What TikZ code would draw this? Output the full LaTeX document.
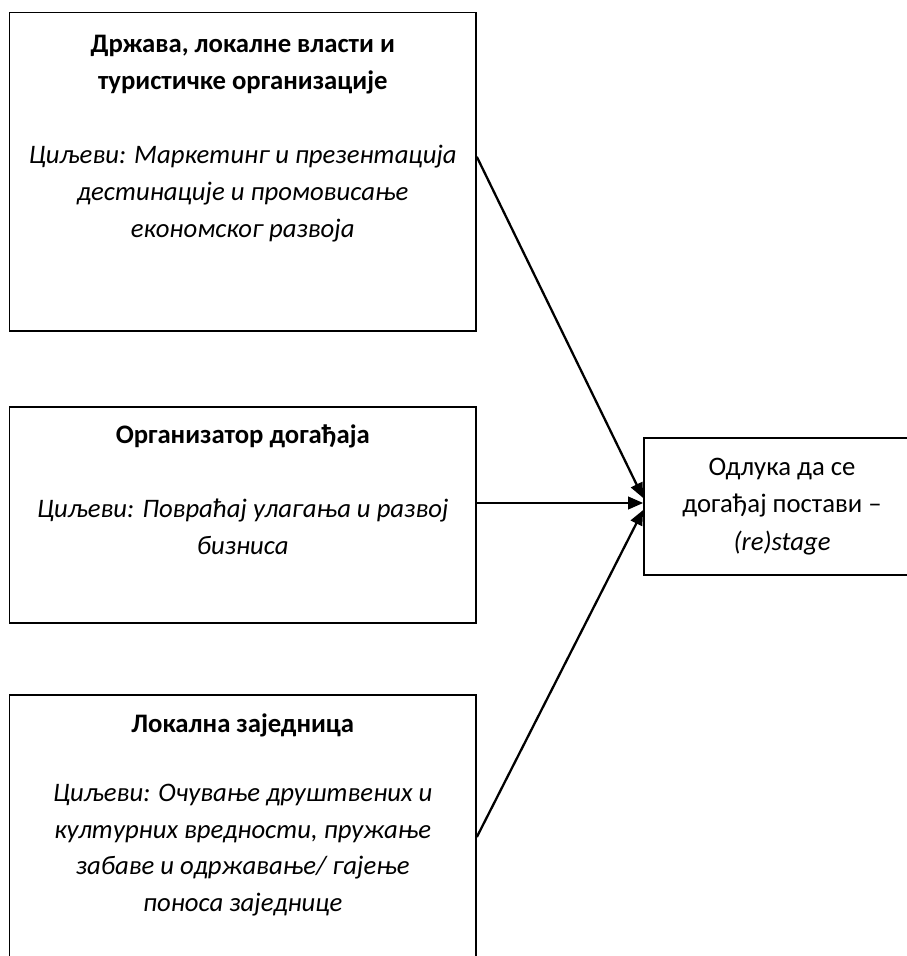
\documentclass[tikz,border=0pt]{standalone}
\usepackage{fontspec}
\setmainfont{Carlito}
\usepackage{tikz}
\usetikzlibrary{arrows.meta,positioning,calc}

\begin{document}
\begin{tikzpicture}[
  goalbox/.style={rectangle, draw=black, line width=0.95pt, minimum width=9.33cm, inner sep=0pt},
  goaltext/.style={anchor=north, align=center, inner sep=0pt, font=\fontsize{15.2}{21}\selectfont},
  decisionbox/.style={rectangle, draw=black, line width=0.95pt, minimum width=5.52cm, minimum height=2.74cm, align=center, font=\fontsize{15.2}{21.5}\selectfont},
  flowarrow/.style={-{Triangle[length=3mm,width=2.5mm]}, line width=1.3pt, color=black}
]
\useasboundingbox (0,0) rectangle (18.14,-19.12);
\clip (0,0) rectangle (18.14,-19.12);

% Left column: stakeholder boxes
\node[goalbox, minimum height=6.37cm] (gov) at (4.855, -3.437) {};
\node[goaltext] (govtext) at (4.855, -0.70) {
\textbf{Држава, локалне власти и}\\
\textbf{туристичке организације}\\[21pt]
\textit{Циљеви: Маркетинг и презентација}\\
\textit{дестинације и промовисање}\\
\textit{економског развоја}
};

\node[goalbox, minimum height=4.32cm] (org) at (4.855, -10.30) {};
\node[goaltext] (orgtext) at (4.855, -8.49) {
\textbf{Организатор догађаја}\\[21pt]
\textit{Циљеви: Повраћај улагања и развој}\\
\textit{бизниса}
};

\node[goalbox, minimum height=6.1cm] (comm) at (4.855, -16.95) {};
\node[goaltext] (commtext) at (4.855, -14.27) {
\textbf{Локална заједница}\\[18pt]
\textit{Циљеви: Очување друштвених и}\\
\textit{културних вредности, пружање}\\
\textit{забаве и одржавање/ гајење}\\
\textit{поноса заједнице}
};

% Right: decision box
\node[decisionbox] (dec) at (15.64, -10.13) {
Одлука да се\\
догађај постави –\\
\textit{(re)stage}
};

% Connectors
\draw[flowarrow] ($(gov.north east)!0.453!(gov.south east)$) -- ([yshift=0.17cm]dec.west);
\draw[flowarrow] ([yshift=0.24cm]org.east) -- ([yshift=0.24cm]org.east -| dec.west);
\draw[flowarrow] ([yshift=0.21cm]comm.east) -- ([yshift=-0.07cm]dec.west);

\end{tikzpicture}
\end{document}
